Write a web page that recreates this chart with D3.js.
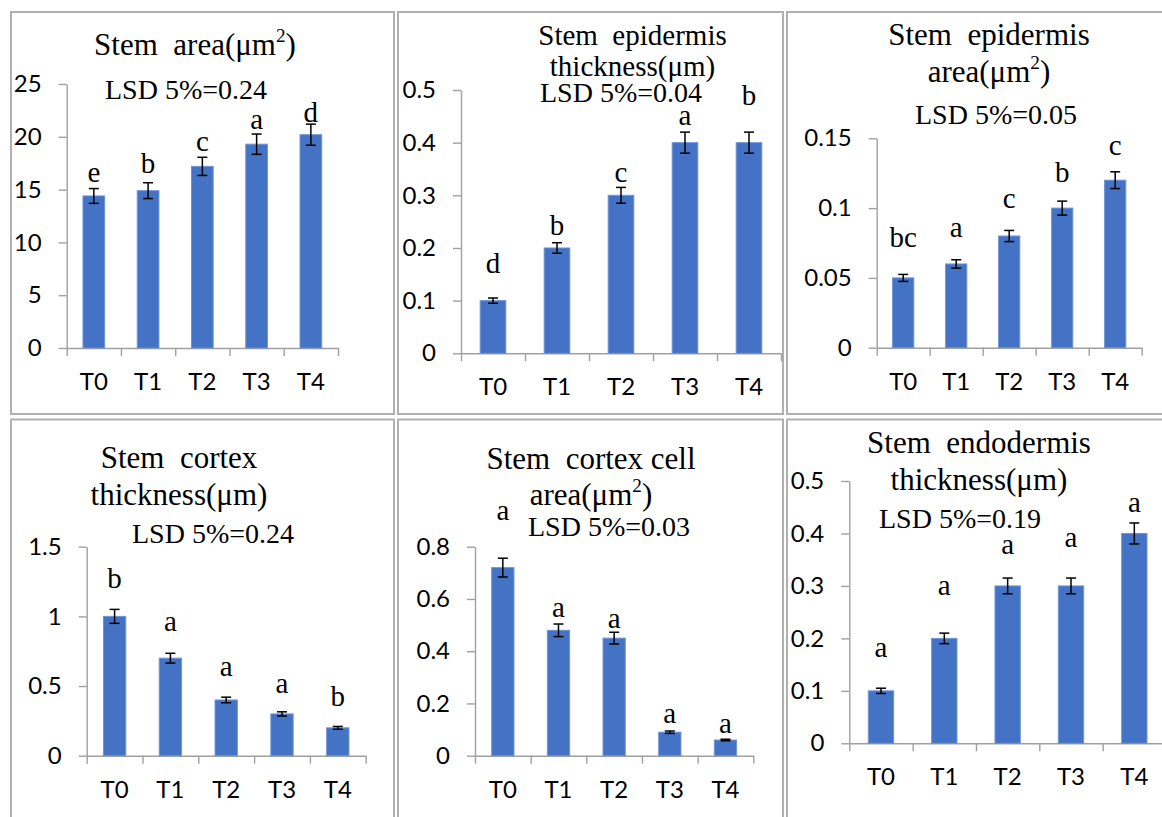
<!DOCTYPE html>
<html>
<head>
<meta charset="utf-8">
<script src="https://cdn.jsdelivr.net/npm/d3@7"></script>
<style>
  body { margin: 0; background: #fff; }
  svg { display: block; }
</style>
</head>
<body>
<svg id="chart" width="1162" height="817"></svg>
<script>
// ---- data -------------------------------------------------------------
const categories = ["T0", "T1", "T2", "T3", "T4"];

const stemAreaValues  = [14.4, 14.9, 17.2, 19.3, 20.2];
const stemAreaErrors  = [0.7, 0.75, 0.86, 0.96, 1.0];
const stemAreaLetters = ["e", "b", "c", "a", "d"];
const stemAreaTicks   = [0, 5, 10, 15, 20, 25];

const epiThickValues  = [0.1, 0.2, 0.3, 0.4, 0.4];
const epiThickErrors  = [0.005, 0.01, 0.015, 0.02, 0.02];
const epiThickLetters = ["d", "b", "c", "a", "b"];
const epiThickTicks   = [0, 0.1, 0.2, 0.3, 0.4, 0.5];

const epiAreaValues   = [0.05, 0.06, 0.08, 0.1, 0.12];
const epiAreaErrors   = [0.0025, 0.003, 0.004, 0.005, 0.006];
const epiAreaLetters  = ["bc", "a", "c", "b", "c"];
const epiAreaTicks    = [0, 0.05, 0.1, 0.15];

const cortexThickValues  = [1.0, 0.7, 0.4, 0.3, 0.2];
const cortexThickErrors  = [0.05, 0.035, 0.02, 0.015, 0.01];
const cortexThickLetters = ["b", "a", "a", "a", "b"];
const cortexThickTicks   = [0, 0.5, 1, 1.5];

const cortexCellValues  = [0.72, 0.48, 0.45, 0.09, 0.06];
const cortexCellErrors  = [0.036, 0.024, 0.0225, 0.0045, 0.003];
const cortexCellLetters = ["a", "a", "a", "a", "a"];
const cortexCellTicks   = [0, 0.2, 0.4, 0.6, 0.8];

const endoThickValues  = [0.1, 0.2, 0.3, 0.3, 0.4];
const endoThickErrors  = [0.005, 0.01, 0.015, 0.015, 0.02];
const endoThickLetters = ["a", "a", "a", "a", "a"];
const endoThickTicks   = [0, 0.1, 0.2, 0.3, 0.4, 0.5];

// ---- panel definitions (data + layout) --------------------------------
const panels = [
  { title: ["Stem  area(μm²)"], lsd: "LSD 5%=0.24",
    values: stemAreaValues, errors: stemAreaErrors, letters: stemAreaLetters, ticks: stemAreaTicks,
    frame: [11, 12, 383, 402], plot: { x0: 66.7, x1: 338, top: 84, bottom: 348 },
    titleAt: { x: 195, y: 55, lead: 0, size: 31 }, lsdAt: { x: 186, y: 99 },
    gaps: [6.5, 9.7, 6.3, 5, 2] },
  { title: ["Stem  epidermis", "thickness(μm)"], lsd: "LSD 5%=0.04",
    values: epiThickValues, errors: epiThickErrors, letters: epiThickLetters, ticks: epiThickTicks,
    frame: [398, 12, 385, 402], plot: { x0: 461, x1: 781, top: 90, bottom: 353.3 },
    titleAt: { x: 632.5, y: 45, lead: 31, size: 29 }, lsdAt: { x: 621, y: 102 },
    gaps: [24.7, 7.7, 5.7, 7, 27] },
  { title: ["Stem  epidermis", "area(μm²)"], lsd: "LSD 5%=0.05",
    values: epiAreaValues, errors: epiAreaErrors, letters: epiAreaLetters, ticks: epiAreaTicks,
    frame: [787, 12, 400, 402], plot: { x0: 876.7, x1: 1141.7, top: 138.3, bottom: 347.7 },
    titleAt: { x: 989, y: 45, lead: 37, size: 31 }, lsdAt: { x: 996, y: 124 },
    gaps: [27, 23, 22, 19.4, 16.8] },
  { title: ["Stem  cortex", "thickness(μm)"], lsd: "LSD 5%=0.24",
    values: cortexThickValues, errors: cortexThickErrors, letters: cortexThickLetters, ticks: cortexThickTicks,
    frame: [11, 419.5, 383, 420], plot: { x0: 86.7, x1: 365.7, top: 546.7, bottom: 755.7 },
    titleAt: { x: 179, y: 468, lead: 37, size: 31 }, lsdAt: { x: 213, y: 543 },
    gaps: [21, 22, 21, 19, 20] },
  { title: ["Stem  cortex cell", "area(μm²)"], lsd: "LSD 5%=0.03",
    values: cortexCellValues, errors: cortexCellErrors, letters: cortexCellLetters, ticks: cortexCellTicks,
    frame: [398, 419.5, 385, 420], plot: { x0: 475, x1: 753.3, top: 546.7, bottom: 755.7 },
    titleAt: { x: 591, y: 469, lead: 36, size: 31 }, lsdAt: { x: 609, y: 536 },
    gaps: [38, 7.3, 4, 7.7, 5.9] },
  { title: ["Stem  endodermis", "thickness(μm)"], lsd: "LSD 5%=0.19",
    values: endoThickValues, errors: endoThickErrors, letters: endoThickLetters, ticks: endoThickTicks,
    frame: [787, 419.5, 400, 420], plot: { x0: 849.3, x1: 1166, top: 481, bottom: 743.3 },
    titleAt: { x: 979, y: 453, lead: 37, size: 31 }, lsdAt: { x: 960, y: 528 },
    gaps: [31.5, 38, 24, 30.7, 11.3] }
];

const BAR = "#4472C4";
const AXIS = "#a0a0a0";
const FRAME = "#b0b0b0";
const SERIF = "'Liberation Serif', 'Times New Roman', serif";
const SANS = "Lato, Carlito, Calibri, 'Open Sans', sans-serif";
const TICK_SIZE = 24;

const svg = d3.select("#chart");
svg.append("rect").attr("width", 1162).attr("height", 817).attr("fill", "#fff");

// Writes a string into a text node, raising "²" as a superscript.
function richText(sel, str) {
  const parts = str.split("²");
  parts.forEach((p, i) => {
    if (p.length) {
      const t = sel.append("tspan").text(p);
      if (i > 0) t.attr("dy", "0.42em");
    }
    if (i < parts.length - 1) {
      sel.append("tspan").text("2").attr("font-size", "0.62em").attr("dy", "-0.68em");
    }
  });
}

panels.forEach(p => {
  const g = svg.append("g");

  // frame
  g.append("rect")
    .attr("x", p.frame[0]).attr("y", p.frame[1])
    .attr("width", p.frame[2]).attr("height", p.frame[3])
    .attr("fill", "none").attr("stroke", FRAME).attr("stroke-width", 2);

  const maxTick = p.ticks[p.ticks.length - 1];
  const y = d3.scaleLinear().domain([0, maxTick]).range([p.plot.bottom, p.plot.top]);
  const x = d3.scaleBand().domain(categories).range([p.plot.x0, p.plot.x1])
    .paddingInner(0.6).paddingOuter(0.3);
  const edges = d3.scaleLinear().domain([0, categories.length]).range([p.plot.x0, p.plot.x1]);

  // y axis
  const yAxis = g.append("g").attr("transform", `translate(${p.plot.x0},0)`)
    .call(d3.axisLeft(y).tickValues(p.ticks).tickSize(8).tickSizeOuter(0)
      .tickPadding(17).tickFormat(d3.format("~g")));
  yAxis.selectAll("path, line").attr("stroke", AXIS).attr("stroke-width", 1.4);
  yAxis.selectAll("text").attr("font-family", SANS).attr("font-size", TICK_SIZE).attr("fill", "#000");

  // x axis: boundary ticks
  const xEdge = g.append("g").attr("transform", `translate(0,${p.plot.bottom})`)
    .call(d3.axisBottom(edges).tickValues(d3.range(categories.length + 1))
      .tickSize(8).tickSizeOuter(0).tickFormat(""));
  xEdge.selectAll("path, line").attr("stroke", AXIS).attr("stroke-width", 1.4);

  // x axis: category labels
  const xLab = g.append("g").attr("transform", `translate(0,${p.plot.bottom})`)
    .call(d3.axisBottom(x).tickSize(0).tickPadding(25));
  xLab.select(".domain").remove();
  xLab.selectAll("text").attr("font-family", SANS).attr("font-size", TICK_SIZE).attr("fill", "#000");

  const rows = categories.map((c, i) => ({
    c, v: p.values[i], e: p.errors[i], l: p.letters[i], gap: p.gaps[i]
  }));

  // bars
  g.selectAll("rect.bar").data(rows).join("rect").attr("class", "bar")
    .attr("x", d => x(d.c)).attr("width", x.bandwidth())
    .attr("y", d => y(d.v)).attr("height", d => y(0) - y(d.v))
    .attr("fill", BAR).attr("stroke", "#6f93d6").attr("stroke-width", 1);

  // error bars
  const eb = g.selectAll("g.err").data(rows).join("g").attr("class", "err")
    .attr("stroke", "#000").attr("stroke-width", 1.5);
  const cx = d => x(d.c) + x.bandwidth() / 2;
  eb.append("line").attr("x1", cx).attr("x2", cx)
    .attr("y1", d => y(d.v + d.e)).attr("y2", d => y(d.v - d.e));
  eb.append("line").attr("x1", d => cx(d) - 5).attr("x2", d => cx(d) + 5)
    .attr("y1", d => y(d.v + d.e)).attr("y2", d => y(d.v + d.e));
  eb.append("line").attr("x1", d => cx(d) - 5).attr("x2", d => cx(d) + 5)
    .attr("y1", d => y(d.v - d.e)).attr("y2", d => y(d.v - d.e));

  // significance letters
  g.selectAll("text.sig").data(rows).join("text").attr("class", "sig")
    .attr("x", cx).attr("y", d => y(d.v + d.e) - d.gap)
    .attr("text-anchor", "middle").attr("font-family", SERIF).attr("font-size", 29)
    .attr("fill", "#000").text(d => d.l);

  // title
  p.title.forEach((line, i) => {
    const t = g.append("text")
      .attr("x", p.titleAt.x).attr("y", p.titleAt.y + i * p.titleAt.lead)
      .attr("text-anchor", "middle").attr("font-family", SERIF)
      .attr("font-size", p.titleAt.size).attr("fill", "#000")
      .style("white-space", "pre");
    richText(t, line);
  });

  // LSD note
  g.append("text")
    .attr("x", p.lsdAt.x).attr("y", p.lsdAt.y)
    .attr("text-anchor", "middle").attr("font-family", SERIF)
    .attr("font-size", 28).attr("fill", "#000")
    .text(p.lsd);
});
</script>
</body>
</html>
